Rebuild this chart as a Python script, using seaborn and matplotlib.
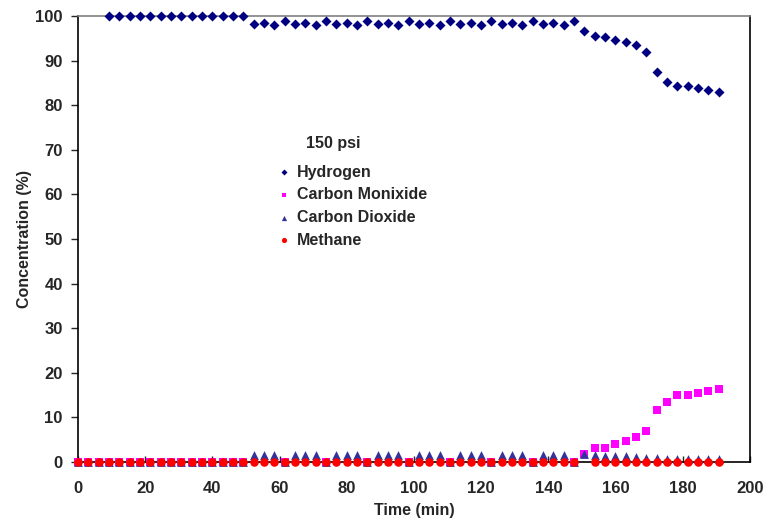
import numpy as np
import pandas as pd
import matplotlib
matplotlib.use("Agg")
import matplotlib.pyplot as plt
import seaborn as sns

nan = np.nan

time_min = [0, 3.1, 6.2, 9.2, 12.3, 15.4, 18.5, 21.5, 24.6, 27.7, 30.8, 33.8, 36.9, 40.0,
            43.1, 46.1, 49.2, 52.3, 55.4, 58.4, 61.5, 64.6, 67.7, 70.7, 73.8, 76.9, 80.0,
            83.0, 86.1, 89.2, 92.3, 95.3, 98.4, 101.5, 104.6, 107.6, 110.7, 113.8, 116.9,
            119.9, 123.0, 126.1, 129.2, 132.2, 135.3, 138.4, 141.5, 144.5, 147.6, 150.7,
            153.8, 156.8, 159.9, 163.0, 166.1, 169.1, 172.2, 175.3, 178.4, 181.4, 184.5,
            187.6, 190.7]

hydrogen = [nan, nan, nan,
            100, 100, 100, 100, 100, 100, 100, 100, 100, 100, 100, 100, 100, 100,
            98.3, 98.4, 98.0, 98.8, 98.3, 98.4, 98.0, 98.8, 98.3, 98.4, 98.0, 98.8,
            98.3, 98.4, 98.0, 98.8, 98.3, 98.4, 98.0, 98.8, 98.3, 98.4, 98.0, 98.8,
            98.3, 98.4, 98.0, 98.8, 98.3, 98.4, 98.0, 98.8,
            96.6, 95.5, 95.4, 94.7, 94.2, 93.4, 91.9, 87.4, 85.1, 84.3, 84.3, 83.8, 83.4, 83.0]

carbon_monoxide = [0, 0, 0, 0, 0, 0, 0, 0, 0, 0, 0, 0, 0, 0, 0, 0, 0,
                   nan, nan, nan, 0, nan, nan, nan, 0, nan, nan, nan, 0,
                   nan, nan, nan, 0, nan, nan, nan, 0, nan, nan, nan, 0,
                   nan, nan, nan, 0, nan, nan, nan, 0,
                   1.9, 3.1, 3.2, 4.0, 4.6, 5.5, 7.0, 11.7, 13.4, 15.0, 15.0, 15.5, 15.9, 16.3]

carbon_dioxide = [0, 0, 0, 0, 0, 0, 0, 0, 0, 0, 0, 0, 0, 0, 0, 0, 0,
                  1.5, 1.5, 1.5, 0, 1.5, 1.5, 1.5, 0, 1.5, 1.5, 1.5, 0,
                  1.5, 1.5, 1.5, 0, 1.5, 1.5, 1.5, 0, 1.5, 1.5, 1.5, 0,
                  1.5, 1.5, 1.5, 0, 1.5, 1.5, 1.5, 0,
                  1.7, 1.5, 1.4, 1.3, 1.3, 1.1, 0.9, 0.8, 0.7, 0.7, 0.6, 0.6, 0.6, 0.6]

methane = [0] * 49 + [nan] + [0] * 13

gases = ["Hydrogen", "Carbon Monixide", "Carbon Dioxide", "Methane"]
series = [hydrogen, carbon_monoxide, carbon_dioxide, methane]
legend_title = "150 psi"

rows = []
for g, vals in zip(gases, series):
    for t, v in zip(time_min, vals):
        rows.append({"Time": t, "Concentration": v, "Gas": g})
df = pd.DataFrame(rows).dropna()

sns.set_style("ticks")
plt.rcParams["font.family"] = ["Liberation Sans", "DejaVu Sans"]
plt.rcParams["font.weight"] = "bold"

fig = plt.figure(figsize=(7.66, 5.23), dpi=100)
ax = fig.add_axes([78 / 766, 1 - 462 / 523, 672 / 766, 446 / 523])

palette = {"Hydrogen": "#000080", "Carbon Monixide": "#FF00FF",
           "Carbon Dioxide": "#333399", "Methane": "#FF0000"}
markers = {"Hydrogen": "D", "Carbon Monixide": "s",
           "Carbon Dioxide": "^", "Methane": "o"}
sizes_map = {"Hydrogen": 26, "Carbon Monixide": 34, "Carbon Dioxide": 40, "Methane": 38}

for g in gases:
    sub = df[df["Gas"] == g]
    sns.scatterplot(data=sub, x="Time", y="Concentration", color=palette[g],
                    marker=markers[g], s=sizes_map[g], linewidth=0, ax=ax,
                    clip_on=False, zorder=3, label=g)

ax.set_xlim(0, 200)
ax.set_ylim(0, 100)
ax.set_xticks(np.arange(0, 201, 20))
ax.set_yticks(np.arange(0, 101, 10))
ax.tick_params(axis="x", direction="in", length=4, width=1, labelsize=12, pad=14)
ax.tick_params(axis="y", direction="out", length=5, width=1, labelsize=12, pad=6)
for lab in ax.get_xticklabels() + ax.get_yticklabels():
    lab.set_fontweight("bold")

for side in ["left", "bottom", "right"]:
    ax.spines[side].set_color("black")
    ax.spines[side].set_linewidth(1.2)
ax.spines["top"].set_color("#808080")
ax.spines["top"].set_linewidth(1.2)

ax.set_xlabel("Time (min)", fontsize=11.5, fontweight="bold", labelpad=5)
ax.set_ylabel("Concentration (%)", fontsize=11.5, fontweight="bold", labelpad=2)

handles, labels = ax.get_legend_handles_labels()
leg = ax.legend(handles, labels, frameon=False,
                loc="upper left", bbox_to_anchor=(0.273, 0.699),
                fontsize=11.5, markerscale=0.6, handletextpad=0.3,
                labelspacing=0.48, handlelength=1.0)
for t in leg.get_texts():
    t.set_fontweight("bold")
ax.text(0.3795, 0.715, legend_title, transform=ax.transAxes, ha="center",
        va="center", fontsize=11.5, fontweight="bold")

fig.savefig("out.png", dpi=100)
